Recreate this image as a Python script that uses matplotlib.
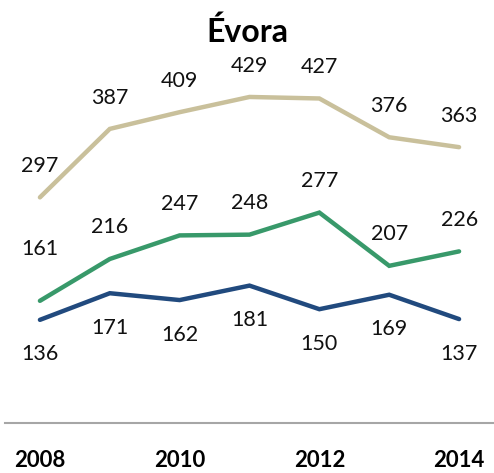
import matplotlib
matplotlib.use("Agg")
import matplotlib.pyplot as plt

years = [2008, 2009, 2010, 2011, 2012, 2013, 2014]
tan_vals = [297, 387, 409, 429, 427, 376, 363]
green_vals = [161, 216, 247, 248, 277, 207, 226]
navy_vals = [136, 171, 162, 181, 150, 169, 137]
tick_years = [2008, 2010, 2012, 2014]
title = "Évora"

plt.rcParams['font.family'] = ['Lato', 'DejaVu Sans']

W, H = 494, 473
fig = plt.figure(figsize=(W / 100, H / 100), dpi=100)
ax_bottom_px = 423.3
scale = 0.7607  # px per unit
ymax = 500
ax_h_px = ymax * scale
ax = fig.add_axes([5 / W, (H - ax_bottom_px) / H, 489 / W, ax_h_px / H])
ax.set_xlim(2007.5, 2014.5)
ax.set_ylim(0, ymax)

tan_c = '#C9C09B'
green_c = '#38996A'
navy_c = '#214A7E'
lw = 3.2
ax.plot(years, tan_vals, color=tan_c, lw=lw, solid_capstyle='round', solid_joinstyle='miter')
ax.plot(years, green_vals, color=green_c, lw=lw, solid_capstyle='round', solid_joinstyle='miter')
ax.plot(years, navy_vals, color=navy_c, lw=lw, solid_capstyle='round', solid_joinstyle='miter')

fs = 15.5
px2pt = 0.72
for x, v in zip(years, tan_vals):
    ax.annotate(str(v), (x, v), xytext=(0, 31 * px2pt), textcoords='offset points',
                ha='center', va='center', fontsize=fs, color='#111111')
for i, (x, v) in enumerate(zip(years, green_vals)):
    off = 52 if i == 0 else 31.5
    ax.annotate(str(v), (x, v), xytext=(0, off * px2pt), textcoords='offset points',
                ha='center', va='center', fontsize=fs, color='#111111')
for x, v in zip(years, navy_vals):
    ax.annotate(str(v), (x, v), xytext=(0, -34.5 * px2pt), textcoords='offset points',
                ha='center', va='center', fontsize=fs, color='#111111')

for s in ['top', 'left', 'right']:
    ax.spines[s].set_visible(False)
ax.spines['bottom'].set_color('#A6A6A6')
ax.spines['bottom'].set_linewidth(1.5)
ax.set_yticks([])
ax.set_xticks(tick_years)
ax.set_xticklabels([str(t) for t in tick_years], fontsize=16, fontweight='bold')
ax.tick_params(axis='x', length=0, pad=27 * px2pt)

fig.text(247 / W, 1 - 32 / H, title, ha='center', va='center', fontsize=23, fontweight='bold')

fig.savefig('out.png', dpi=100)
